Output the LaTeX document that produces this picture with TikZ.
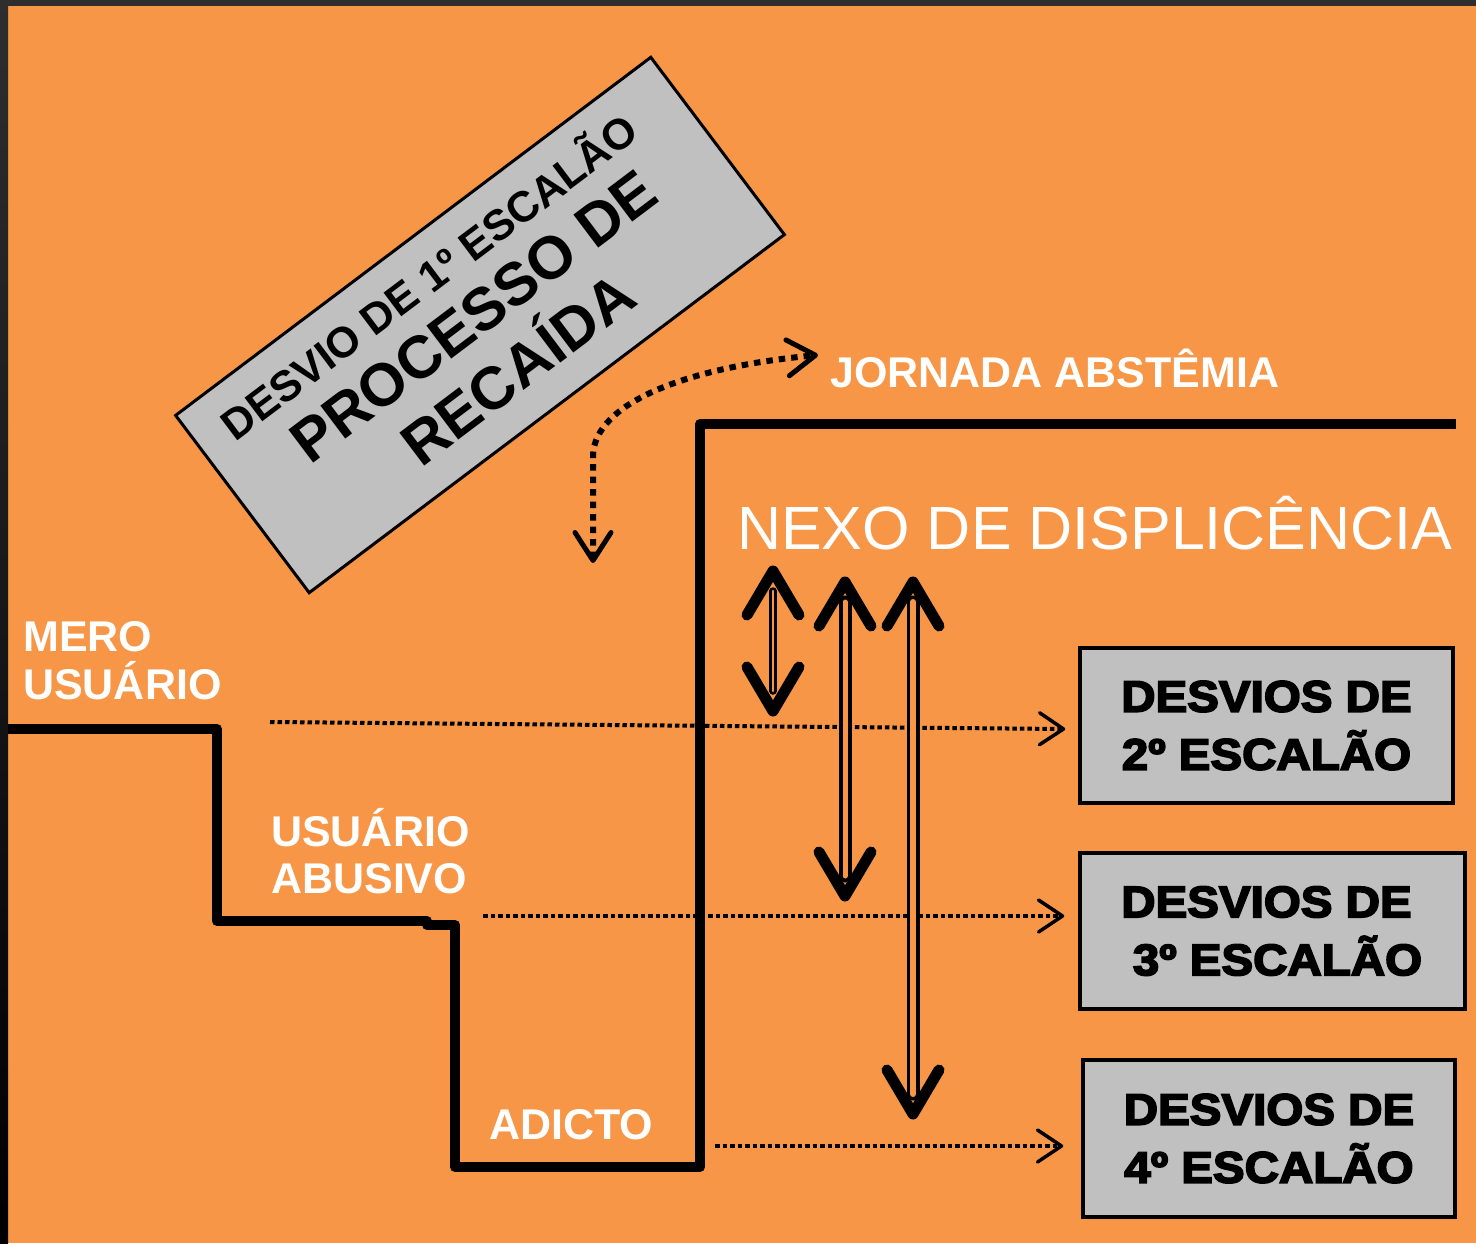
\documentclass[tikz,border=0pt]{standalone}
\usepackage{fontspec}
\setmainfont{Liberation Sans}
\newfontfamily\heavyfont{Liberation Sans Bold}[FakeBold=4,FakeStretch=1.08]
\usetikzlibrary{arrows.meta,calc}
\definecolor{bgorange}{HTML}{F79646}
\definecolor{boxgray}{HTML}{C0C0C0}
\definecolor{framedark}{HTML}{2E2E2E}
\begin{document}
\begin{tikzpicture}[x=1pt,y=-1pt,
  lbl/.style={text=white,font=\bfseries\fontsize{43}{48}\selectfont,inner sep=0pt,anchor=base west},
  nexo/.style={text=white,font=\fontsize{61}{66}\selectfont,inner sep=0pt,anchor=base west},
  rottxt/.style={text=black,font=\bfseries\fontsize{#1}{#1}\selectfont,inner sep=0pt,anchor=base,rotate=37},
  grybox/.style={draw=black,line width=3.5pt,fill=boxgray,inner sep=0pt,align=center,
    font=\heavyfont\fontsize{44}{58}\selectfont},
  stair/.style={line width=10pt,line join=round,line cap=butt},
  dotline/.style={line width=4pt,dash pattern=on 4.5pt off 3pt,
    -{Straight Barb[length=24pt,width=32pt,line width=3.5pt,round]}},
  curvdot/.style={line width=6pt,dash pattern=on 6.5pt off 6pt,
    {Straight Barb[length=28pt,width=36pt,line width=5pt,round]}-{Straight Barb[length=28pt,width=36pt,line width=5pt,round]}},
  shaft/.style={draw=black,double=bgorange,line cap=round},
  head/.style={line width=11pt,line cap=round,line join=round}]
\useasboundingbox (0,0) rectangle (1476,1243);
\fill[bgorange] (0,0) rectangle (1476,1243);
\shade[top color=framedark,bottom color=black] (0,0) rectangle (8,1243);
\fill[framedark] (0,0) rectangle (1476,6);

% rotated box
\node[draw=black,line width=3pt,fill=boxgray,rotate=37,minimum width=595pt,minimum height=222pt,inner sep=0pt] (rbox) at (480,325) {};
\node[rottxt=43] (r1) at (438.5,289.5) {DESVIO DE 1º ESCALÃO};
\node[rottxt=60] (r2) at (486,333) {PROCESSO DE};
\node[rottxt=60] (r3) at (530.5,385.9) {RECAÍDA};

% staircase
\draw[stair] (8,729) -- (217,729) -- (217,921) -- (427,921) -- (427,925) -- (455,925)
  -- (455,1167) -- (700,1167) -- (700,424) -- (1456,424);

% labels
\node[lbl] (m1) at (23,651) {MERO};
\node[lbl] (m2) at (23,699) {USUÁRIO};
\node[lbl] (u1) at (271,846) {USUÁRIO};
\node[lbl] (u2) at (271,893) {ABUSIVO};
\node[lbl] (ad) at (489,1139) {ADICTO};
\node[lbl] (jo) at (830,387) {JORNADA ABSTÊMIA};
\node[nexo] (nx) at (737,549) {NEXO DE DISPLICÊNCIA};

% boxes
\node[grybox,minimum width=373pt,minimum height=155pt] (b1) at (1266.5,725.5) {DESVIOS DE\\2º ESCALÃO};
\node[grybox,minimum width=385pt,minimum height=156pt] (b2) at (1272.5,931) {DESVIOS DE\hspace*{12pt}\\\hspace*{10pt}3º ESCALÃO};
\node[grybox,minimum width=372pt,minimum height=157pt] (b3) at (1269,1138.5) {DESVIOS DE\\4º ESCALÃO};

% dotted connectors
\coordinate (d1) at (270,722);
\coordinate (d2) at (483,916);
\coordinate (d3) at (715,1146);
\draw[dotline] (d1) -- ($(b1.west)+(-13,3.5)$);
\draw[dotline] (d2) -- ($(b2.west)+(-14,-15)$);
\draw[dotline] (d3) -- ($(b3.west)+(-18,7.5)$);

% curved dotted arrow
\coordinate (cb) at (593,563);
\coordinate (ct) at (818,355);
\draw[curvdot] (cb) -- (593,455) .. controls (595,405) and (680,368) .. (ct);

% double-headed arrows
\foreach \n/\x/\t/\b/\lw/\dd in {A/773/571/711/2.5/2.5, B/845/582/896/4/5, C/913/582/1114/3.5/6}{
  \coordinate (\n t) at (\x,\t);
  \coordinate (\n b) at (\x,\b);
  \draw[shaft,line width=\lw pt,double distance=\dd pt] ($(\n t)+(0,20)$) -- ($(\n b)+(0,-20)$);
  \draw[head] ($(\n t)+(-26,44)$) -- (\n t) -- ($(\n t)+(26,44)$);
  \draw[head] ($(\n b)+(-26,-44)$) -- (\n b) -- ($(\n b)+(26,-44)$);
}
\end{tikzpicture}
\end{document}
